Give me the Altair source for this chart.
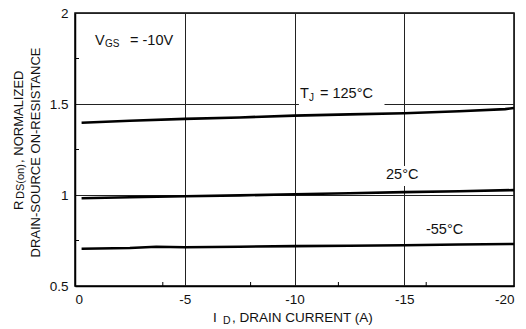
import altair as alt
import pandas as pd

# Normalized on-resistance vs. drain current for three junction temperatures
id_125 = [-0.3, -2.5, -5, -7.5, -10, -12.5, -15, -17.5, -19.6, -20]
r_125 = [1.397, 1.408, 1.418, 1.426, 1.436, 1.443, 1.449, 1.460, 1.472, 1.478]

id_25 = [-0.3, -2.5, -5, -7.5, -10, -12.5, -15, -17.5, -20]
r_25 = [0.982, 0.988, 0.993, 0.998, 1.004, 1.010, 1.016, 1.021, 1.027]

id_m55 = [-0.3, -2.5, -3.7, -5, -7.5, -10, -12.5, -15, -17.5, -20]
r_m55 = [0.705, 0.709, 0.716, 0.713, 0.716, 0.719, 0.721, 0.724, 0.728, 0.731]

x_ticks = [0, -5, -10, -15, -20]
y_ticks = [0.5, 1, 1.5, 2]
x_minor = [-4, -8, -12, -16]
y_minor = [0.75, 1.25, 1.75]

W, H = 439, 273
FONT = "Liberation Sans"
INK = "#111111"

x_scale = alt.Scale(domain=[0, -20], nice=False)
y_scale = alt.Scale(domain=[0.5, 2], nice=False, zero=False)

rows = []
for name, xs, ys in [("125", id_125, r_125), ("25", id_25, r_25), ("-55", id_m55, r_m55)]:
    for xv, yv in zip(xs, ys):
        rows.append({"temp": name, "id": xv, "r": yv})
curves_df = pd.DataFrame(rows)

x_axis = alt.Axis(values=x_ticks, grid=True, gridColor="#222222", gridWidth=1,
                  ticks=False, labelPadding=6, title=None,
                  labelExpr="toString(datum.value)",
                  labelFont=FONT, labelFontSize=13.5, labelColor=INK,
                  domainColor="#000000", domainWidth=1.5)
y_axis = alt.Axis(values=y_ticks, grid=True, gridColor="#222222", gridWidth=1,
                  ticks=False, labelPadding=7, title=None,
                  labelExpr="toString(datum.value)",
                  labelFont=FONT, labelFontSize=13.5, labelColor=INK,
                  domainColor="#000000", domainWidth=1.5)


def X(field):
    return alt.X(field, type="quantitative", scale=x_scale, axis=x_axis)


def Y(field):
    return alt.Y(field, type="quantitative", scale=y_scale, axis=y_axis)


curves = alt.Chart(curves_df).mark_line(color="black", strokeWidth=2.6).encode(
    x=X("id"), y=Y("r"), detail="temp:N",
)

# Short inward minor ticks along the bottom and left edges
xminor = alt.Chart(pd.DataFrame({"id": x_minor})).mark_rule(color="black", strokeWidth=1).encode(
    x=X("id"), y=alt.value(H), y2=alt.value(H - 4),
)
yminor = alt.Chart(pd.DataFrame({"r": y_minor})).mark_rule(color="black", strokeWidth=1).encode(
    y=Y("r"), x=alt.value(0), x2=alt.value(4),
)

# White patches so the temperature labels sit over the grid lines
patch_x = [-10.2, -14.15]
patch_x2 = [-14.1, -15.75]
patch_y = [1.478, 1.05]
patch_y2 = [1.577, 1.16]
patches = alt.Chart(pd.DataFrame({"x": patch_x, "x2": patch_x2, "y": patch_y, "y2": patch_y2})).mark_rect(
    color="white"
).encode(
    x=X("x"), x2="x2:Q", y=Y("y"), y2="y2:Q",
)

# Horizontal text pieces (annotations and the x-axis title), subscripts smaller
h_text = ["V", "GS", "= -10V", "T", "J", "= 125°C", "25°C", "-55°C",
          "I", "D", ", DRAIN CURRENT (A)"]
h_x = [-0.911, -1.367, -2.506, -10.25, -10.66, -11.16, -14.17, -15.99,
       -6.287, -6.743, -7.153]
h_y = [1.824, 1.813, 1.824, 1.533, 1.516, 1.533, 1.088, 0.786,
       0.302, 0.291, 0.302]
h_size = [14.5, 10, 14.5, 14.5, 10, 14.5, 14.5, 14.5,
          13.5, 10.5, 13.5]
h_df = pd.DataFrame({"t": h_text, "x": h_x, "y": h_y, "s": h_size})
h_labels = alt.Chart(h_df).mark_text(
    align="left", baseline="alphabetic", font=FONT, color=INK
).encode(
    x=X("x"), y=Y("y"), text="t:N",
    size=alt.Size("s:Q", scale=None, legend=None),
)

# Rotated y-axis title, two lines
v_text = ["R", "DS(on)", ", NORMALIZED"]
v_x = [2.369, 2.323, 2.369]
v_y = [0.918, 0.978, 1.176]
v_size = [13, 11, 13]
v_labels = alt.Chart(pd.DataFrame({"t": v_text, "x": v_x, "y": v_y, "s": v_size})).mark_text(
    align="left", baseline="alphabetic", angle=270, font=FONT, color=INK
).encode(
    x=X("x"), y=Y("y"), text="t:N",
    size=alt.Size("s:Q", scale=None, legend=None),
)
v2_text = ["DRAIN-SOURCE ON-RESISTANCE"]
v2_x = [1.595]
v2_y = [1.2335]
v2_labels = alt.Chart(pd.DataFrame({"t": v2_text, "x": v2_x, "y": v2_y})).mark_text(
    align="center", baseline="alphabetic", angle=270, font=FONT, color=INK, fontSize=13
).encode(
    x=X("x"), y=Y("y"), text="t:N",
)

chart = alt.layer(
    curves, xminor, yminor, patches, h_labels, v_labels, v2_labels
).properties(
    width=W, height=H,
    autosize=alt.AutoSizeParams(type="none"),
    padding={"left": 75, "top": 13, "right": 12, "bottom": 43},
    background="white",
).configure_view(stroke="black", strokeWidth=1.5)

chart.save("out.html", embed_options={"renderer": "svg", "actions": False})
